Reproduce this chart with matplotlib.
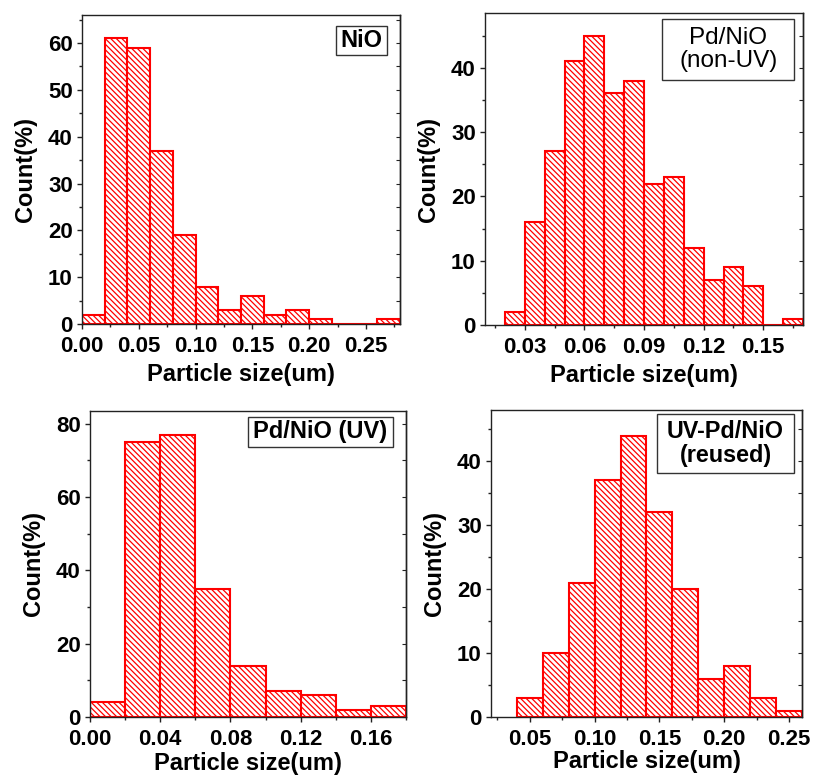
import matplotlib
matplotlib.use("Agg")
import matplotlib.pyplot as plt
from matplotlib.patches import Rectangle
from matplotlib.ticker import MultipleLocator, FormatStrFormatter

plt.rcParams["font.family"] = ["Liberation Sans", "DejaVu Sans"]
plt.rcParams["font.weight"] = "bold"
plt.rcParams["hatch.linewidth"] = 0.9

# [DATA] left bin edges and counts (%)
nio_bins = [0.00, 0.02, 0.04, 0.06, 0.08, 0.10, 0.12, 0.14, 0.16, 0.18, 0.20, 0.22, 0.24, 0.26]
nio_counts = [2, 61, 59, 37, 19, 8, 3, 6, 2, 3, 1, 0, 0, 1]

pd_nonuv_bins = [0.02, 0.03, 0.04, 0.05, 0.06, 0.07, 0.08, 0.09, 0.10, 0.11, 0.12, 0.13, 0.14, 0.15, 0.16]
pd_nonuv_counts = [2, 16, 27, 41, 45, 36, 38, 22, 23, 12, 7, 9, 6, 0, 1]

pd_uv_bins = [0.00, 0.02, 0.04, 0.06, 0.08, 0.10, 0.12, 0.14, 0.16]
pd_uv_counts = [4, 75, 77, 35, 14, 7, 6, 2, 3]

reused_bins = [0.04, 0.06, 0.08, 0.10, 0.12, 0.14, 0.16, 0.18, 0.20, 0.22, 0.24]
reused_counts = [3, 10, 21, 37, 44, 32, 20, 6, 8, 3, 1]

# box = (x0, y0, x1, y1) of the sample label frame, axes fraction
panels = [
    dict(bins=nio_bins, counts=nio_counts, width=0.02, label="NiO", bold=True, fs=17, lpad=4,
         pos=[0.1005, 0.5846, 0.3897, 0.3962], xlim=(0, 0.28), ylim=(0, 66),
         xmaj=0.05, xmin=0.025, ymaj=10, ymin=5, box=(0.799, 0.871, 0.959, 0.964)),
    dict(bins=pd_nonuv_bins, counts=pd_nonuv_counts, width=0.01, label="Pd/NiO\n(non-UV)", bold=False,
         fs=17.5, lpad=4,
         pos=[0.5944, 0.5833, 0.3897, 0.4], xlim=(0.01, 0.17), ylim=(0, 48.5),
         xmaj=0.03, xmin=0.015, ymaj=10, ymin=5, box=(0.557, 0.785, 0.972, 0.981)),
    dict(bins=pd_uv_bins, counts=pd_uv_counts, width=0.02, label="Pd/NiO (UV)", bold=True, fs=17, lpad=1,
         pos=[0.1103, 0.0808, 0.3873, 0.3923], xlim=(0, 0.18), ylim=(0, 83.5),
         xmaj=0.04, xmin=0.02, ymaj=20, ymin=10, box=(0.500, 0.883, 0.959, 0.980)),
    dict(bins=reused_bins, counts=reused_counts, width=0.02, label="UV-Pd/NiO\n(reused)", bold=True,
         fs=16.8, lpad=0,
         pos=[0.6017, 0.0808, 0.3811, 0.3935], xlim=(0.02, 0.26), ylim=(0, 48),
         xmaj=0.05, xmin=0.025, ymaj=10, ymin=5, box=(0.534, 0.794, 0.974, 0.987)),
]

fig = plt.figure(figsize=(8.16, 7.8), dpi=100)

for p in panels:
    ax = fig.add_axes(p["pos"])
    ax.bar(p["bins"], p["counts"], width=p["width"], align="edge",
           facecolor="white", edgecolor="#ff0000", linewidth=1.5,
           hatch="\\" * 6, zorder=2)
    ax.set_xlim(*p["xlim"])
    ax.set_ylim(*p["ylim"])

    ax.xaxis.set_major_locator(MultipleLocator(p["xmaj"]))
    ax.xaxis.set_minor_locator(MultipleLocator(p["xmin"]))
    ax.yaxis.set_major_locator(MultipleLocator(p["ymaj"]))
    ax.yaxis.set_minor_locator(MultipleLocator(p["ymin"]))
    ax.xaxis.set_major_formatter(FormatStrFormatter("%.2f"))

    for s in ax.spines.values():
        s.set_linewidth(1.0)
        s.set_color("#222222")

    ax.tick_params(which="both", direction="out", labelsize=16, width=1.0, color="#222222",
                   top=False, right=False)
    ax.tick_params(which="major", length=3.6)
    ax.tick_params(which="minor", length=2.5)
    ax.tick_params(axis="y", which="major", pad=3)
    ax.tick_params(axis="x", which="major", pad=5.2)
    for lbl in ax.get_xticklabels() + ax.get_yticklabels():
        lbl.set_fontweight("bold")

    # inward ticks on the right spine, no labels
    sec = ax.secondary_yaxis("right")
    sec.yaxis.set_major_locator(MultipleLocator(p["ymaj"]))
    sec.yaxis.set_minor_locator(MultipleLocator(p["ymin"]))
    sec.tick_params(which="both", direction="in", length=3, width=0.8, labelright=False,
                    color="#222222")
    sec.spines["right"].set_linewidth(1.0)
    sec.spines["right"].set_color("#222222")

    ax.set_xlabel("Particle size(um)", fontsize=17, fontweight="bold", labelpad=p["lpad"])
    ax.set_ylabel("Count(%)", fontsize=17, fontweight="bold", labelpad=8)

    # sample label in a frame
    x0, y0, x1, y1 = p["box"]
    ax.add_patch(Rectangle((x0, y0), x1 - x0, y1 - y0, transform=ax.transAxes,
                           facecolor="white", edgecolor="#333333", linewidth=1.0, zorder=5))
    ax.text((x0 + x1) / 2, (y0 + y1) / 2, p["label"], transform=ax.transAxes,
            ha="center", va="center", multialignment="center", fontsize=p["fs"],
            fontweight="bold" if p["bold"] else "normal", linespacing=1.05, zorder=6)

fig.savefig("out.png", dpi=100)
